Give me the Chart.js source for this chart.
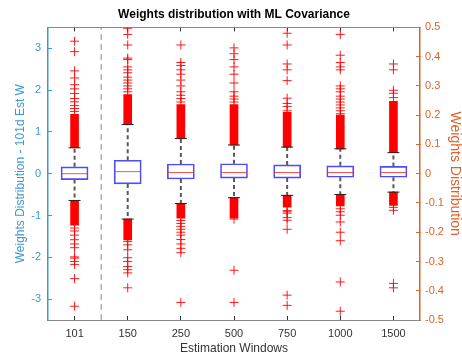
<!DOCTYPE html>
<html>
<head>
<meta charset="utf-8">
<script src="https://cdn.jsdelivr.net/npm/chart.js@4"></script>
<style>
  html, body { margin: 0; padding: 0; background: #fff; }
  #wrap { width: 462px; height: 356px; }
</style>
</head>
<body>
<div id="wrap"><canvas id="boxChart" width="462" height="356"></canvas></div>
<script>
// Estimation windows (101 is read on the left axis, the others on the right axis)
const windows = ['101', '150', '250', '500', '750', '1000', '1500'];
const leftTicks = [-3, -2, -1, 0, 1, 2, 3];
const rightTicks = [-0.5, -0.4, -0.3, -0.2, -0.1, 0, 0.1, 0.2, 0.3, 0.4, 0.5];

// box statistics
const q1      = [-0.14, -0.035, -0.018, -0.015, -0.015, -0.012, -0.012];
const medians = [0.0, 0.007, 0.004, 0.004, 0.004, 0.004, 0.004];
const q3      = [0.165, 0.046, 0.033, 0.034, 0.030, 0.027, 0.025];
const whiskLo = [-0.64, -0.155, -0.102, -0.082, -0.074, -0.071, -0.063];
const whiskHi = [0.62, 0.168, 0.120, 0.098, 0.091, 0.085, 0.072];

// runs of outliers so packed that the markers merge into a solid band
const denseHi = [[0.62, 1.42], [0.168, 0.27], [0.12, 0.236], [0.098, 0.236], [0.091, 0.21], [0.085, 0.2], [0.072, 0.247]];
const denseLo = [[-1.23, -0.64], [-0.226, -0.155], [-0.152, -0.102], [-0.152, -0.082], [-0.114, -0.074], [-0.11, -0.071], [-0.108, -0.063]];

// separate outliers
const outliers = [
  [1.49, 1.56, 1.63, 1.72, 1.80, 1.92, 2.03, 2.13, 2.29, 2.46, 2.92, 3.17,
   -1.30, -1.37, -1.47, -1.58, -1.68, -1.77, -1.99, -2.02, -2.10, -2.17, -2.51, -3.17],
  [0.28, 0.29, 0.30, 0.31, 0.32, 0.33, 0.345, 0.355, 0.365, 0.39, 0.395, 0.44, 0.476, 0.497,
   -0.232, -0.243, -0.26, -0.287, -0.30, -0.317, -0.328, -0.339, -0.39],
  [0.245, 0.257, 0.268, 0.28, 0.30, 0.32, 0.34, 0.355, 0.37, 0.38, 0.44,
   -0.16, -0.17, -0.18, -0.19, -0.20, -0.21, -0.225, -0.24, -0.255, -0.27, -0.44],
  [0.245, 0.255, 0.265, 0.28, 0.31, 0.34, 0.365, 0.39, 0.41, 0.43,
   -0.155, -0.33, -0.44],
  [0.215, 0.23, 0.24, 0.258, 0.318, 0.355, 0.375, 0.44, 0.48,
   -0.126, -0.13, -0.135, -0.15, -0.159, -0.19, -0.415, -0.45],
  [0.205, 0.215, 0.225, 0.235, 0.245, 0.255, 0.265, 0.28, 0.29, 0.30, 0.355, 0.365, 0.38, 0.405, 0.476,
   -0.12, -0.13, -0.142, -0.165, -0.20, -0.229, -0.37, -0.47],
  [0.26, 0.275, 0.285, 0.355, 0.375,
   -0.115, -0.125, -0.375, -0.39]
];

const BLUE_AX = '#3d97d3';
const ORANGE_AX = '#dc6228';
const FONT = "'Liberation Sans', Arial, sans-serif";

// which window goes on which axis
const groups = [
  { axis: 'y', idx: [0] },
  { axis: 'y1', idx: [1, 2, 3, 4, 5, 6] }
];

function buildDatasets() {
  const sets = [];
  groups.forEach(g => {
    // medians on top
    sets.push({
      type: 'scatter', yAxisID: g.axis, xAxisID: 'x',
      data: g.idx.map(i => ({ x: i + 1, y: medians[i] })),
      pointStyle: 'line', pointRadius: 13, borderColor: 'rgba(255,50,50,0.85)', borderWidth: 1
    });
    // outlier markers
    sets.push({
      type: 'scatter', yAxisID: g.axis, xAxisID: 'x',
      data: g.idx.flatMap(i => outliers[i].map(v => ({ x: i + 1, y: v }))),
      pointStyle: 'cross', pointRadius: 4.5, borderColor: 'rgba(255,0,0,0.9)', borderWidth: 1
    });
    // whisker caps
    sets.push({
      type: 'scatter', yAxisID: g.axis, xAxisID: 'x',
      data: g.idx.flatMap(i => [{ x: i + 1, y: whiskHi[i] }, { x: i + 1, y: whiskLo[i] }]),
      pointStyle: 'line', pointRadius: 6, borderColor: '#222', borderWidth: 1
    });
    // dashed whiskers
    sets.push({
      type: 'line', yAxisID: g.axis, xAxisID: 'x',
      data: g.idx.flatMap(i => [
        { x: i + 1, y: q3[i] }, { x: i + 1, y: whiskHi[i] }, { x: i + 1, y: null },
        { x: i + 1, y: q1[i] }, { x: i + 1, y: whiskLo[i] }, { x: i + 1, y: null }
      ]),
      borderColor: '#5a5a5a', borderWidth: 2, borderDash: [4, 3], pointRadius: 0, spanGaps: false, fill: false
    });
    // boxes
    sets.push({
      type: 'bar', yAxisID: g.axis, xAxisID: 'x', grouped: false,
      data: g.idx.map(i => ({ x: i + 1, y: [q1[i], q3[i]] })),
      backgroundColor: 'rgba(0,0,0,0)', borderColor: 'rgba(30,30,255,0.8)', borderWidth: 1,
      borderSkipped: false, barThickness: 27
    });
    // dense outlier bands
    sets.push({
      type: 'bar', yAxisID: g.axis, xAxisID: 'x', grouped: false,
      data: g.idx.flatMap(i => [{ x: i + 1, y: denseHi[i] }, { x: i + 1, y: denseLo[i] }]),
      backgroundColor: '#ff0000', borderWidth: 0, barThickness: 8
    });
  });
  // separator between the 101 window and the others
  sets.push({
    type: 'line', yAxisID: 'y', xAxisID: 'x',
    data: [{ x: 1.5, y: -3.5 }, { x: 1.5, y: 3.5 }],
    borderColor: '#8a8a8a', borderWidth: 1, borderDash: [6, 4], pointRadius: 0, fill: false
  });
  return sets;
}

// small tick marks pointing into the plot, like the original
const inwardTicks = color => ({
  display: true, drawOnChartArea: false, drawTicks: true, offset: false,
  tickLength: -4, tickColor: color, tickWidth: 1
});

const ctx = document.getElementById('boxChart').getContext('2d');
new Chart(ctx, {
  type: 'scatter',
  data: { datasets: buildDatasets() },
  options: {
    responsive: false,
    animation: false,
    layout: { padding: 0 },
    plugins: {
      legend: { display: false },
      tooltip: { enabled: false },
      title: {
        display: true,
        fullSize: false,
        text: 'Weights distribution with ML Covariance',
        color: '#000',
        font: { family: FONT, size: 12, weight: 'bold' },
        padding: { top: 7, bottom: 6 }
      }
    },
    scales: {
      x: {
        type: 'linear', position: 'bottom', min: 0.5, max: 7.5, offset: false,
        afterBuildTicks: s => { s.ticks = windows.map((w, i) => ({ value: i + 1 })); },
        afterFit: s => { s.height = 36; },
        ticks: {
          callback: v => windows[v - 1],
          color: '#333', padding: 11, autoSkip: false, maxRotation: 0,
          font: { family: FONT, size: 11 }
        },
        grid: inwardTicks('#333'),
        border: { color: '#8a8a8a', width: 1 },
        title: {
          display: true, text: 'Estimation Windows', color: '#333',
          font: { family: FONT, size: 12 }, padding: { top: 0, bottom: 0 }
        }
      },
      x2: {
        type: 'linear', position: 'top', min: 0.5, max: 7.5, offset: false,
        afterBuildTicks: s => { s.ticks = windows.map((w, i) => ({ value: i + 1 })); },
        afterFit: s => { s.height = 0; },
        ticks: { display: false },
        grid: inwardTicks('#333'),
        border: { color: '#8a8a8a', width: 1 }
      },
      y: {
        type: 'linear', position: 'left', min: -3.5, max: 3.5,
        afterBuildTicks: s => { s.ticks = leftTicks.map(v => ({ value: v })); },
        afterFit: s => { s.width = 48; },
        ticks: {
          color: BLUE_AX, padding: 11,
          font: { family: FONT, size: 11 }
        },
        grid: inwardTicks(BLUE_AX),
        border: { color: BLUE_AX, width: 1.5 },
        title: {
          display: true, text: 'Weights Distribution - 101d Est W', color: BLUE_AX,
          font: { family: FONT, size: 12 }, padding: { top: 13, bottom: 0 }
        }
      },
      y1: {
        type: 'linear', position: 'right', min: -0.5, max: 0.5,
        afterBuildTicks: s => { s.ticks = rightTicks.map(v => ({ value: v })); },
        afterFit: s => { s.width = 42; },
        ticks: {
          color: ORANGE_AX, padding: 9,
          font: { family: FONT, size: 11 },
          callback: v => Math.abs(v) < 1e-9 ? '0' : v.toFixed(1)
        },
        grid: inwardTicks(ORANGE_AX),
        border: { color: ORANGE_AX, width: 1.5 },
        title: {
          display: true, text: 'Weights Distribution', color: ORANGE_AX,
          font: { family: FONT, size: 14, lineHeight: 1 }, padding: { top: 0, bottom: 0 }
        }
      }
    }
  }
});
</script>
</body>
</html>
